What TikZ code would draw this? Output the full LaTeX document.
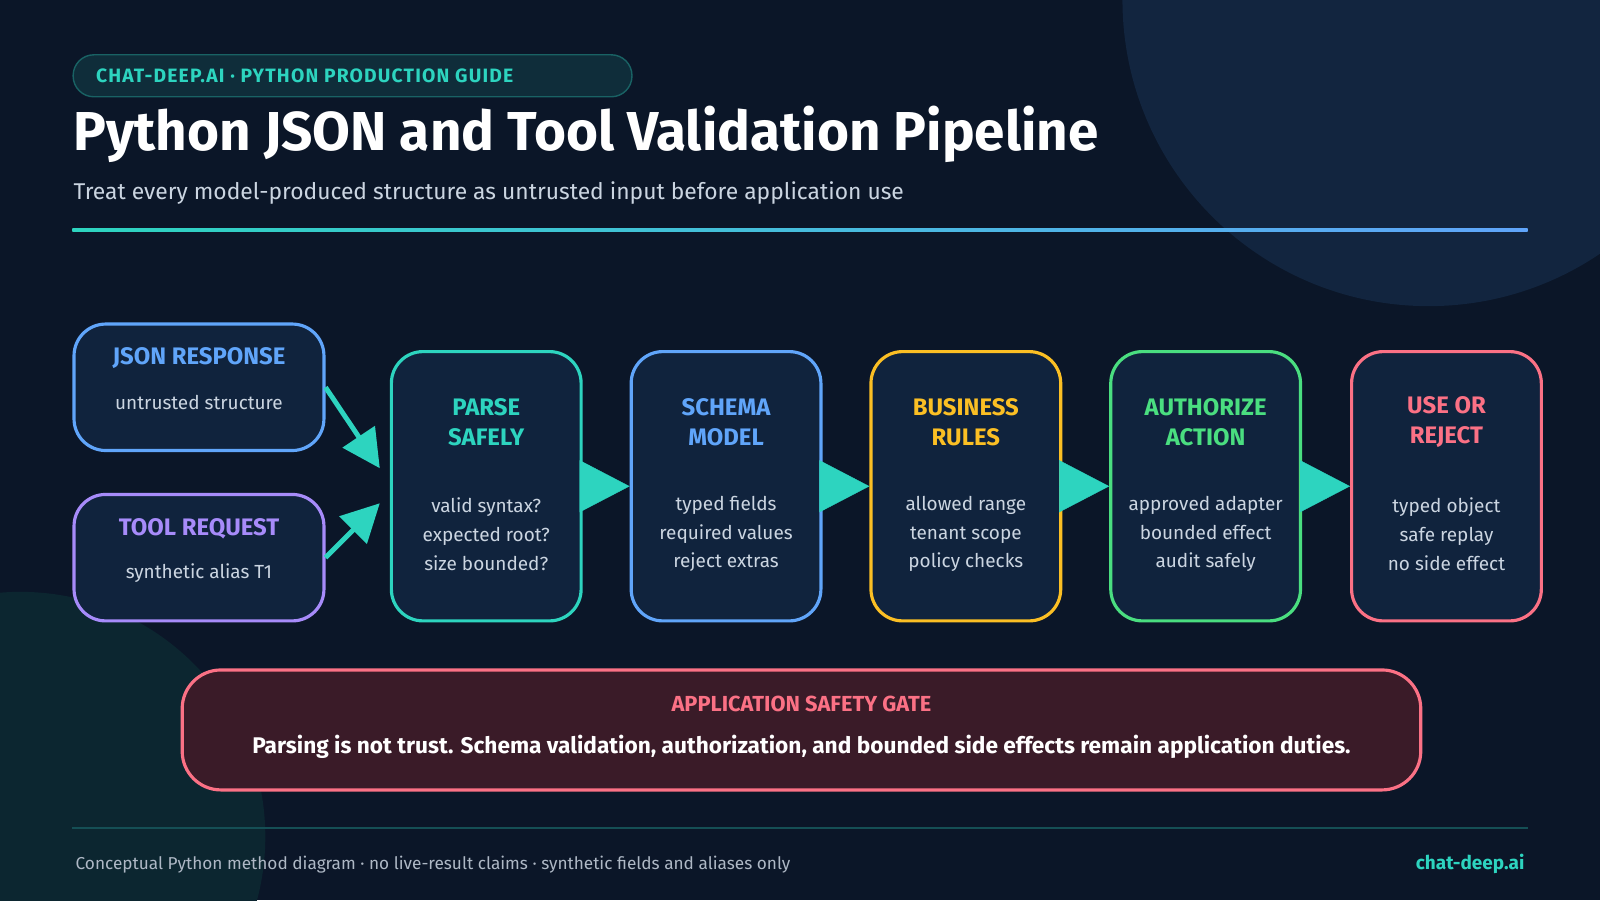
\documentclass[tikz,border=0pt]{standalone}
\usepackage{fontspec}
\setmainfont{Fira Sans}
\usetikzlibrary{positioning,arrows.meta}
\definecolor{bgc}{HTML}{0B1628}
\definecolor{boxc}{HTML}{10233D}
\definecolor{tealc}{HTML}{2DD4BF}
\definecolor{bluec}{HTML}{60A5FA}
\definecolor{yelc}{HTML}{FBBF24}
\definecolor{grnc}{HTML}{4ADE80}
\definecolor{redc}{HTML}{FB7185}
\definecolor{purc}{HTML}{A78BFA}
\definecolor{txtc}{HTML}{CBD5E1}
\definecolor{orbc}{HTML}{12253F}
\definecolor{orbt}{HTML}{0C2630}
\definecolor{gatec}{HTML}{3A1B28}
\tikzset{
  stage/.style = {draw=#1, line width=0.9pt, fill=boxc, rounded corners=9pt,
    minimum width=1.898cm, minimum height=2.694cm},
  src/.style = {draw=#1, line width=0.9pt, fill=boxc, rounded corners=9pt,
    minimum width=2.5cm, minimum height=1.265cm},
  head/.style = {text=#1, font=\fontsize{6.8}{8.6}\selectfont\bfseries, align=center},
  body/.style = {text=txtc, font=\fontsize{5.4}{8.2}\selectfont, align=center},
  flow/.style = {tealc, line width=0.1pt, -{Triangle[length=0.5cm,width=0.52cm]}},
  feed/.style = {tealc, line width=1.4pt, -{Triangle[length=0.38cm,width=0.38cm]}}
}
\begin{document}
\begin{tikzpicture}[x=0.010204cm,y=-0.010204cm]
\fill[bgc] (0,0) rectangle (1568,882);
\useasboundingbox (0,0) rectangle (1568,882);
% background circles
\begin{scope}
\clip (0,0) rectangle (1568,882);
\fill[orbc] (1400,0) circle (300);
\fill[orbt] (20,820) circle (240);
\end{scope}
% header
\node[draw=tealc!40!bgc, fill=tealc!12!bgc, rounded corners=5.9pt, minimum width=5.59cm,
  minimum height=0.42cm, anchor=north west] (tag) at (71,53) {};
\node[text=tealc, font=\fontsize{5.5}{6}\selectfont\bfseries\addfontfeature{LetterSpace=6}, anchor=west] (tagtxt)
  at (82,74) {CHAT-DEEP.AI · PYTHON PRODUCTION GUIDE};
\node[text=white, font=\fontsize{15.6}{17}\selectfont\bfseries, anchor=west] (title)
  at (60,132) {Python JSON and Tool Validation Pipeline};
\node[text=txtc, font=\fontsize{6.5}{8}\selectfont, anchor=west] (sub)
  at (60,189) {Treat every model-produced structure as untrusted input before application use};
\shade[left color=tealc, right color=bluec] (71,223.5) rectangle (1497,226.5);
% source boxes
\node[src=bluec, anchor=north west] (json) at (71,316) {};
\node[head=bluec] at ([yshift=-0.36cm]json.north) {JSON RESPONSE};
\node[body] at ([yshift=-0.80cm]json.north) {untrusted structure};
\node[src=purc, anchor=north west] (tool) at (71,483) {};
\node[head=purc] at ([yshift=-0.36cm]tool.north) {TOOL REQUEST};
\node[body] at ([yshift=-0.80cm]tool.north) {synthetic alias T1};
% stages
\foreach \n/\x/\c/\h/\b in {
  parse/382/tealc/{PARSE\\SAFELY}/{valid syntax?\\expected root?\\size bounded?},
  schema/617/bluec/{SCHEMA\\MODEL}/{typed fields\\required values\\reject extras},
  rules/852/yelc/{BUSINESS\\RULES}/{allowed range\\tenant scope\\policy checks},
  auth/1087/grnc/{AUTHORIZE\\ACTION}/{approved adapter\\bounded effect\\audit safely},
  use/1323/redc/{USE OR\\REJECT}/{typed object\\safe replay\\no side effect}}{
  \node[stage=\c, anchor=north west] (\n) at (\x,343) {};
  \node[head=\c] at ([yshift=-0.72cm]\n.north) {\h};
  \node[body] at ([yshift=-1.84cm]\n.north) {\b};
}
% connectors
\coordinate (pin1) at ([xshift=-0.1cm,yshift=0.18cm]parse.west);
\coordinate (pin2) at ([xshift=-0.1cm,yshift=-0.17cm]parse.west);
\draw[feed] (json.east) -- (pin1);
\draw[feed] (tool.east) -- (pin2);
\draw[flow] (parse) -- (schema);
\draw[flow] (schema) -- (rules);
\draw[flow] (rules) -- (auth);
\draw[flow] (auth) -- (use);
% gate
\node[draw=redc, line width=0.9pt, fill=gatec, rounded corners=11pt,
  minimum width=12.39cm, minimum height=1.2cm, anchor=north west] (gate) at (177,655) {};
\node[text=redc, font=\fontsize{6.2}{7}\selectfont\bfseries] at ([yshift=-0.36cm]gate.north) {APPLICATION SAFETY GATE};
\node[text=white, font=\fontsize{6.45}{7}\selectfont\bfseries] at ([yshift=-0.78cm]gate.north)
  {Parsing is not trust. Schema validation, authorization, and bounded side effects remain application duties.};
% footer
\draw[tealc!30!bgc, line width=0.6pt] (71,811) -- (1497,811);
\node[text=txtc!85!bgc, font=\fontsize{4.9}{6}\selectfont, anchor=west] (foot) at (62,847)
  {Conceptual Python method diagram · no live-result claims · synthetic fields and aliases only};
\node[text=tealc, font=\fontsize{5.4}{6}\selectfont\bfseries, anchor=east] (site) at (1506,847) {chat-deep.ai};
\end{tikzpicture}
\end{document}
